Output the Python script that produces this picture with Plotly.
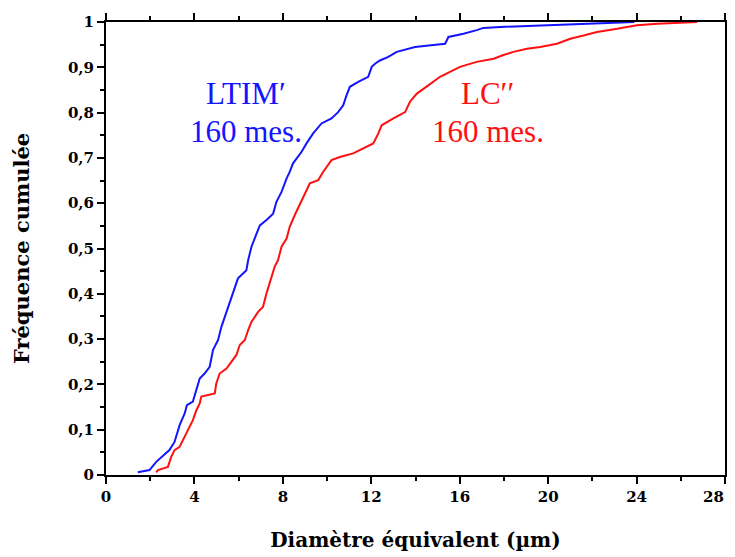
import plotly.graph_objects as go

# Traced cumulative-frequency curves (diameter in µm, cumulative frequency)
ltim_diam = [1.44, 1.97, 2.27, 2.87, 3.10, 3.33, 3.56, 3.66, 3.93, 4.09, 4.24, 4.46, 4.69,
             4.84, 5.07, 5.22, 5.37, 5.52, 5.67, 5.82, 5.97, 6.20, 6.35, 6.43, 6.58, 6.81,
             6.96, 7.26, 7.56, 7.71, 7.94, 8.17, 8.31, 8.46, 8.69, 8.84, 9.07, 9.37, 9.75,
             10.20, 10.50, 10.73, 10.88, 11.03, 11.41, 11.86, 12.02, 12.17, 12.39, 12.77,
             13.15, 13.98, 14.81, 15.34, 15.49, 16.17, 16.77, 17.07, 17.83, 18.89, 20.40,
             21.60, 23.00, 23.90]
ltim_freq = [0.006, 0.011, 0.029, 0.055, 0.073, 0.110, 0.136, 0.154, 0.162, 0.188, 0.213,
             0.224, 0.239, 0.276, 0.298, 0.327, 0.349, 0.371, 0.393, 0.415, 0.434, 0.445,
             0.452, 0.474, 0.504, 0.533, 0.551, 0.563, 0.577, 0.603, 0.625, 0.655, 0.669,
             0.688, 0.702, 0.713, 0.732, 0.754, 0.776, 0.787, 0.801, 0.816, 0.838, 0.857,
             0.868, 0.879, 0.901, 0.908, 0.915, 0.923, 0.934, 0.945, 0.949, 0.952, 0.967,
             0.974, 0.982, 0.987, 0.989, 0.991, 0.994, 0.996, 0.998, 1.000]

lc_diam = [2.27, 2.35, 2.80, 2.95, 3.10, 3.33, 3.48, 3.63, 3.78, 3.93, 4.09, 4.24, 4.31,
           4.54, 4.92, 4.99, 5.14, 5.45, 5.67, 5.90, 6.05, 6.28, 6.43, 6.58, 6.88, 7.10,
           7.26, 7.49, 7.63, 7.78, 7.94, 8.17, 8.31, 8.54, 8.77, 8.99, 9.22, 9.60, 9.82,
           10.20, 10.58, 11.18, 11.64, 12.09, 12.32, 12.47, 13.00, 13.53, 13.75, 14.06,
           14.58, 15.11, 15.56, 16.01, 16.77, 17.53, 17.98, 18.43, 19.04, 19.64, 20.40,
           21.00, 21.60, 22.21, 23.12, 24.02, 24.93, 25.84, 26.74]
lc_freq = [0.006, 0.011, 0.018, 0.040, 0.055, 0.062, 0.077, 0.092, 0.107, 0.121, 0.143,
           0.158, 0.173, 0.176, 0.180, 0.202, 0.224, 0.235, 0.250, 0.265, 0.287, 0.298,
           0.320, 0.338, 0.360, 0.371, 0.401, 0.441, 0.460, 0.474, 0.504, 0.522, 0.548,
           0.574, 0.599, 0.621, 0.644, 0.651, 0.669, 0.695, 0.702, 0.710, 0.721, 0.732,
           0.754, 0.772, 0.787, 0.801, 0.824, 0.842, 0.860, 0.879, 0.890, 0.901, 0.912,
           0.919, 0.927, 0.934, 0.941, 0.945, 0.952, 0.963, 0.970, 0.978, 0.985, 0.993,
           0.996, 0.998, 1.000]

x_tickvals = [0, 4, 8, 12, 16, 20, 24, 28]
x_ticktext = ["0", "4", "8", "12", "16", "20", "24", "28"]
y_tickvals = [0, 0.1, 0.2, 0.3, 0.4, 0.5, 0.6, 0.7, 0.8, 0.9, 1]
y_ticktext = ["0", "0,1", "0,2", "0,3", "0,4", "0,5", "0,6", "0,7", "0,8", "0,9", "1"]

BLUE = "#1414ff"
RED = "#ff1010"
LABEL_FONT = "DejaVu Serif"
TEXT_FONT = "Liberation Serif"
tick_font = dict(family=LABEL_FONT, size=15, color="black", weight="bold")

fig = go.Figure()
fig.add_trace(go.Scatter(x=ltim_diam, y=ltim_freq, mode="lines",
                         line=dict(color=BLUE, width=2), showlegend=False))
fig.add_trace(go.Scatter(x=lc_diam, y=lc_freq, mode="lines",
                         line=dict(color=RED, width=2), showlegend=False))

ann_font = dict(family=TEXT_FONT, size=31)
fig.add_annotation(x=6.34, y=0.843, text="LTIM′", showarrow=False,
                   font=dict(ann_font, color=BLUE), xanchor="center", yanchor="middle")
fig.add_annotation(x=6.34, y=0.759, text="160 mes.", showarrow=False,
                   font=dict(ann_font, color=BLUE), xanchor="center", yanchor="middle")
fig.add_annotation(x=17.26, y=0.843, text="LC′′", showarrow=False,
                   font=dict(ann_font, color=RED), xanchor="center", yanchor="middle")
fig.add_annotation(x=17.26, y=0.759, text="160 mes.", showarrow=False,
                   font=dict(ann_font, color=RED), xanchor="center", yanchor="middle")

# last x tick label sits flush against the right edge (as in the original), so
# it is placed as right-anchored text instead of a centred tick label
fig.add_annotation(x=x_tickvals[-1], y=0, text=x_ticktext[-1], showarrow=False,
                   xanchor="right", yanchor="middle", xshift=1, yshift=-22,
                   font=tick_font)
x_ticktext_axis = x_ticktext[:-1] + [""]

axis_common = dict(showline=True, linecolor="black", linewidth=2, mirror="ticks",
                   ticks="outside", ticklen=7, tickwidth=2, tickcolor="black",
                   showgrid=False, zeroline=False, automargin=False,
                   tickfont=tick_font)

fig.update_xaxes(range=[0, 28], tickvals=x_tickvals, ticktext=x_ticktext_axis,
                 minor=dict(dtick=2, tick0=0, ticks="outside", ticklen=4, tickwidth=2,
                            tickcolor="black", showgrid=False),
                 title=dict(text="<b>Diamètre équivalent (µm)</b>", standoff=28,
                            font=dict(family=LABEL_FONT, size=20, color="black")),
                 **axis_common)
fig.update_yaxes(range=[0, 1], tickvals=y_tickvals, ticktext=y_ticktext,
                 minor=dict(dtick=0.05, tick0=0, ticks="outside", ticklen=4, tickwidth=2,
                            tickcolor="black", showgrid=False),
                 title=dict(text="<b>Fréquence cumulée</b>", standoff=33,
                            font=dict(family=LABEL_FONT, size=21, color="black")),
                 **axis_common)

# page body has an 8px default margin; size the figure to fit the 735x557 window
fig.update_layout(width=727, height=549,
                  margin=dict(l=98, r=10, t=14, b=82),
                  paper_bgcolor="white", plot_bgcolor="white")

fig.write_html("out.html")
